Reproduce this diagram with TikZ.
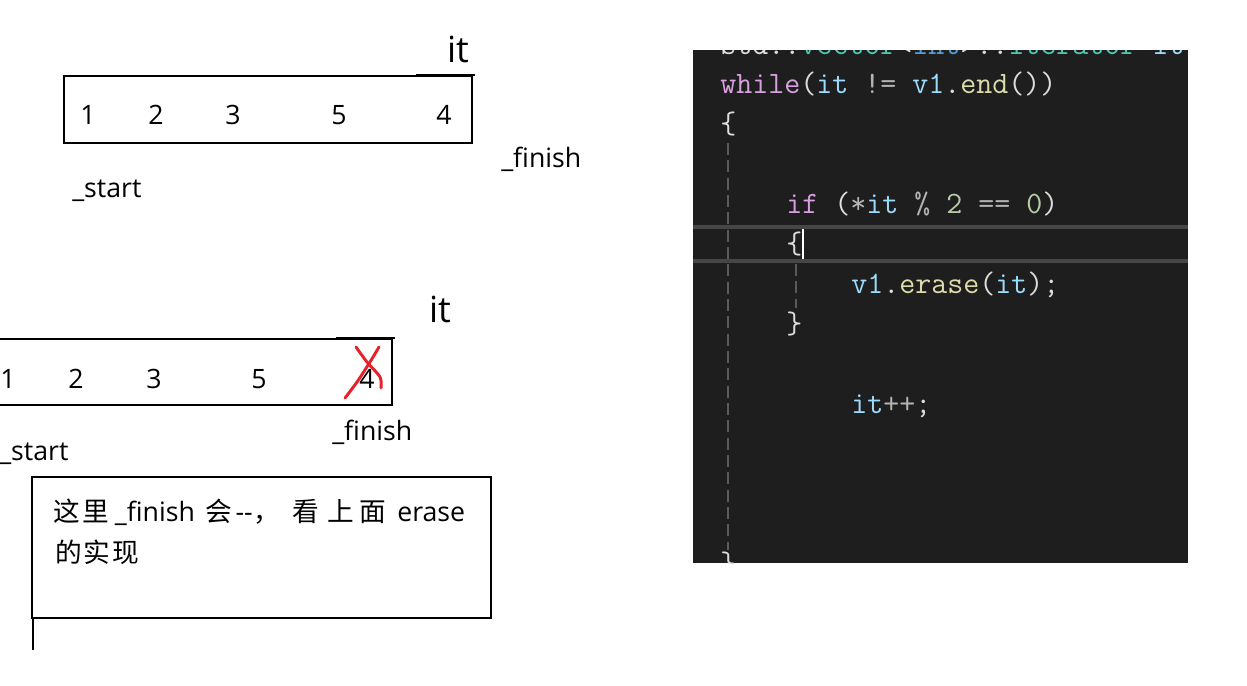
\documentclass[tikz,border=0pt]{standalone}
\usepackage{fontspec}
\setmainfont{Open Sans}
\newfontfamily\cjk{Noto Sans CJK SC}
\newfontfamily\codefont{Latin Modern Mono}
\definecolor{panelbg}{HTML}{1E1E1E}
\definecolor{kw}{HTML}{D8A0DF}
\definecolor{plain}{HTML}{DCDCDC}
\definecolor{var}{HTML}{9CDCFE}
\definecolor{fn}{HTML}{DCDCAA}
\definecolor{num}{HTML}{B5CEA8}
\definecolor{op}{HTML}{B4B4B4}
\definecolor{typ}{HTML}{4EC9B0}
\definecolor{kwb}{HTML}{569CD6}
\definecolor{guide}{HTML}{5A5A5A}
\definecolor{hl}{HTML}{464646}
\definecolor{xred}{HTML}{E8202A}
\tikzset{
  lbl/.style={font=\fontsize{20}{24}\selectfont, inner sep=0pt},
  itlbl/.style={font=\fontsize{27}{32}\selectfont, inner sep=0pt, anchor=base},
  digit/.style={font=\fontsize{20}{24}\selectfont, inner sep=0pt, anchor=base},
  arr/.style={draw=black, line width=1.9pt},
  codeln/.style={font=\codefont\fontsize{23.3}{28}\selectfont, inner sep=0pt, anchor=base west, text=plain},
  notetxt/.style={font=\fontsize{20}{24}\selectfont, inner sep=0pt, anchor=base west},
  xstroke/.style={xred, line width=2.2pt, line cap=round, line join=round},
}
\begin{document}
\begin{tikzpicture}[x=0.75pt,y=-0.75pt]
\useasboundingbox (0,0) rectangle (1247,686);
% ---------- top array ----------
\draw[arr] (64,76) rectangle (472,143);
\draw[line width=1.9pt] (416,74.8) -- (475,74.8);
\node[digit] (a1) at (88,124) {1};
\node[digit] (a2) at (156,124) {2};
\node[digit] (a3) at (233,124) {3};
\node[digit] (a5) at (339,124) {5};
\node[digit] (a4) at (444,124) {4};
\node[itlbl] (it1) at (458,62) {it};
\node[lbl, anchor=base west] (fin1) at (501,167) {\_finish};
\node[lbl, anchor=base west] (st1) at (72,197) {\_start};
% ---------- second array ----------
\draw[arr] (-10,339) rectangle (392,405);
\draw[line width=1.9pt] (336,337.8) -- (395,337.8);
\node[digit] (b1) at (8,388) {1};
\node[digit] (b2) at (76,388) {2};
\node[digit] (b3) at (154,388) {3};
\node[digit] (b5) at (259,388) {5};
\node[digit] (b4) at (367,388) {4};
\draw[xstroke] plot[smooth] coordinates {(345,398) (357,382) (370,362) (379,347)};
\draw[xstroke] plot[smooth] coordinates {(356,347) (367,362) (380,377) (381,388)};
\node[itlbl] (it2) at (440,322) {it};
\node[lbl, anchor=base west] (fin2) at (332,440) {\_finish};
\node[lbl, anchor=base west] (st2) at (-1,460) {\_start};
% ---------- note box ----------
\draw[line width=1.5pt] (32,477) rectangle (491,618);
\draw[line width=1.5pt] (33,618) -- (33,650);
\node[notetxt] (n1) at (53,521) {{\cjk 这}\hspace{2.25pt}{\cjk 里}\hspace{4pt}\_finish\hspace{8.25pt}{\cjk 会}\hspace{2.25pt}-{}-\hspace{0.75pt}{\cjk ，}\hspace{9pt}{\cjk 看}\hspace{6pt}{\cjk 上}\hspace{4.5pt}{\cjk 面}\hspace{8.25pt}erase};
\node[notetxt] (n2) at (55,562) {{\cjk 的}\hspace{1pt}{\cjk 实}\hspace{2.25pt}{\cjk 现}};
% ---------- code panel ----------
\fill[panelbg] (693,50) rectangle (1188,563);
\begin{scope}
\clip (693,50) rectangle (1188,563);
\draw[hl, line width=2.3pt] (693,227) -- (1188,227);
\draw[hl, line width=2.3pt] (693,261) -- (1188,261);
\draw[guide, line width=1.5pt, dash pattern=on 9pt off 4pt] (728,143) -- (728,550);
\draw[guide, line width=1.5pt, dash pattern=on 9pt off 4pt] (796,264) -- (796,308);
\node[codeln] (c0) at (720,54) {std::\textcolor{typ}{vector}<\textcolor{kwb}{int}>::\textcolor{typ}{iterator} \textcolor{var}{it}};
\node[codeln] (c1) at (720,93) {\textcolor{kw}{while}(\textcolor{var}{it} \textcolor{op}{!=} \textcolor{var}{v1}.\textcolor{fn}{end}())};
\node[codeln] (c2) at (720,133) {\{};
\node[codeln] (c3) at (786,213) {\textcolor{kw}{if} (\textcolor{op}{*}\textcolor{var}{it} \textcolor{op}{\%} \textcolor{num}{2} \textcolor{op}{==} \textcolor{num}{0})};
\node[codeln] (c4) at (786,253) {\{};
\node[codeln] (c5) at (851,293) {\textcolor{var}{v1}.\textcolor{fn}{erase}(\textcolor{var}{it});};
\node[codeln] (c6) at (786,333) {\}};
\node[codeln] (c7) at (851,413) {\textcolor{var}{it}\textcolor{op}{++};};
\node[codeln] (c8) at (720,573) {\}};
\draw[white, line width=1.5pt] (803,229) -- (803,259);
\end{scope}
\end{tikzpicture}
\end{document}
